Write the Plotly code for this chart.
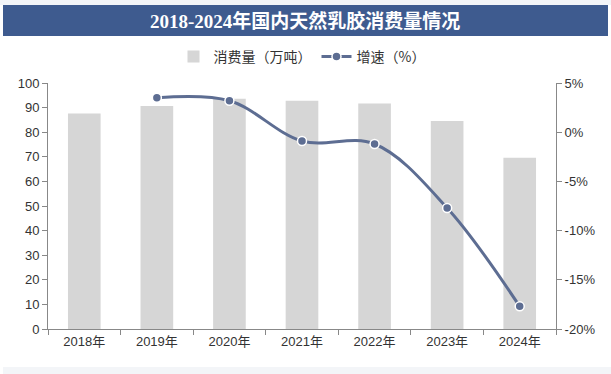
import plotly.graph_objects as go

years = ["2018年", "2019年", "2020年", "2021年", "2022年", "2023年", "2024年"]
consumption = [87.6, 90.7, 93.6, 92.8, 91.7, 84.6, 69.6]
growth_years = ["2019年", "2020年", "2021年", "2022年", "2023年", "2024年"]
growth = [3.5, 3.2, -0.9, -1.2, -7.7, -17.7]

title_text = "2018-2024年国内天然乳胶消费量情况"
left_ticks = [0, 10, 20, 30, 40, 50, 60, 70, 80, 90, 100]
right_ticks = [5, 0, -5, -10, -15, -20]

L, R, T, B = 48, 55, 83, 45
W, H = 611, 374
pw, ph = W - L - R, H - T - B

def px(x):
    return (x - L) / pw

def py(y):
    return (H - B - y) / ph

fig = go.Figure()
fig.add_trace(go.Bar(
    x=years, y=consumption, name="消费量（万吨）",
    marker=dict(color="#d6d6d6", line=dict(width=0)),
    yaxis="y",
))
fig.add_trace(go.Scatter(
    x=growth_years, y=growth, name="增速（%）", mode="lines+markers",
    line=dict(color="#5d6d92", width=3, shape="spline", smoothing=1.0),
    marker=dict(color="#5d6d92", size=9, line=dict(color="white", width=1.5)),
    yaxis="y2",
))

axis_font = dict(family="Liberation Sans, Arial, Noto Sans CJK SC", size=13, color="#333333")

fig.update_layout(
    width=W, height=H,
    margin=dict(l=L, r=R, t=T, b=B, autoexpand=False),
    paper_bgcolor="white", plot_bgcolor="white",
    bargap=0.55,
    showlegend=True,
    legend=dict(orientation="h", x=0.5, xanchor="center", y=py(57), yanchor="middle",
                font=dict(family="Noto Sans CJK SC", size=14, color="#333333"),
                itemwidth=30, tracegroupgap=0, bgcolor="rgba(0,0,0,0)"),
    xaxis=dict(type="category", showgrid=False, showline=True, linecolor="#888888", linewidth=1,
               ticks="outside", ticklen=5, tickcolor="#888888", tickson="boundaries",
               tickfont=axis_font, automargin=False),
    yaxis=dict(range=[0, 100], tickvals=left_ticks, showgrid=False, showline=True,
               linecolor="#888888", linewidth=1, ticks="outside", ticklen=5, tickcolor="#888888",
               tickfont=axis_font, zeroline=False, automargin=False),
    yaxis2=dict(range=[-20, 5], tickvals=right_ticks, ticktext=[f"{v}%" for v in right_ticks],
                overlaying="y", side="right", showgrid=False, showline=True,
                linecolor="#888888", linewidth=1, ticks="outside", ticklen=5, tickcolor="#888888",
                tickfont=axis_font, zeroline=False, automargin=False),
    shapes=[
        dict(type="rect", xref="paper", yref="paper", x0=px(0), x1=px(611), y0=py(5), y1=py(0),
             fillcolor="#f3f5f8", line=dict(width=0), layer="below"),
        dict(type="rect", xref="paper", yref="paper", x0=px(3), x1=px(608), y0=py(36), y1=py(5),
             fillcolor="#3e5b8f", line=dict(width=0), layer="below"),
        dict(type="rect", xref="paper", yref="paper", x0=px(3), x1=px(611), y0=py(374), y1=py(367),
             fillcolor="#f3f5f8", line=dict(width=0), layer="below"),
    ],
    annotations=[
        dict(text=title_text, xref="paper", yref="paper", x=px(305), y=py(21),
             xanchor="center", yanchor="middle", showarrow=False,
             font=dict(family="Liberation Serif, Noto Sans CJK SC", size=19, color="white", weight="bold")),
    ],
)

fig.write_html("out.html", config={"displayModeBar": False},
               post_script="document.body.style.margin='0';document.body.style.overflow='hidden';")
